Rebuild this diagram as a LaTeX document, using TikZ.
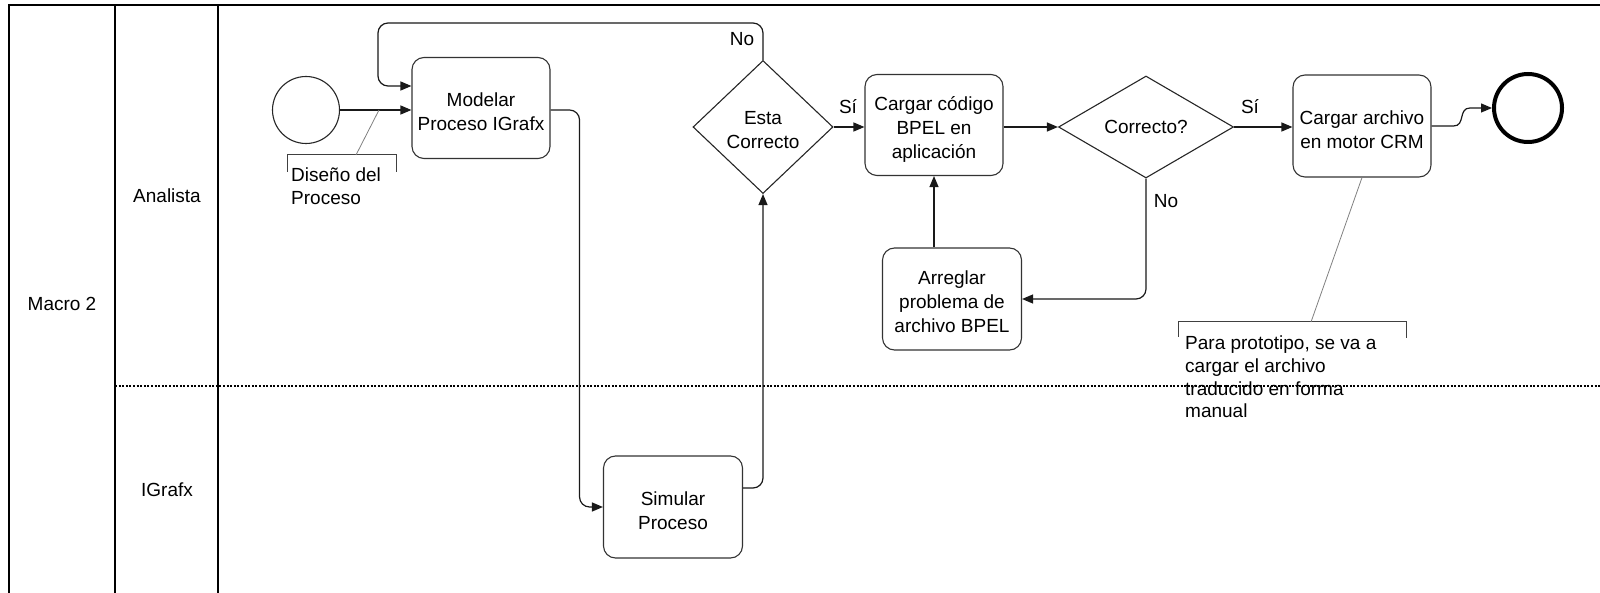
\documentclass[tikz,border=0pt]{standalone}
\usepackage{fontspec}
\setmainfont{Liberation Sans}
\usetikzlibrary{arrows.meta,shapes.geometric,calc}
% invisible strut that lowers the text block inside a box
\newcommand\toppad[1]{\rule{0pt}{#1}}
\begin{document}
\begin{tikzpicture}[x=1pt,y=-1pt,
  every node/.style={font=\fontsize{19}{24}\selectfont},
  task/.style={draw=black!80, line width=1.1pt, rounded corners=12pt, minimum width=138pt, minimum height=101pt, inner sep=0pt, align=center},
  gate/.style={draw=black!85, line width=1.1pt, diamond, inner sep=0pt, align=center},
  flow/.style={draw=black!90, line width=1.2pt, -{Triangle[length=11pt,width=9pt]}},
  lane/.style={line width=2.8pt},
  note/.style={draw=black!75, line width=1pt},
  link/.style={draw=black!50, line width=0.8pt},
  lbl/.style={inner sep=0pt}
]
\useasboundingbox (0,0) rectangle (1600,593);

% pool and lanes
\draw[lane] (9,593) -- (9,5) -- (1600,5);
\draw[lane] (115,5) -- (115,593);
\draw[lane] (218,5) -- (218,593);
\draw[line width=1.8pt, dash pattern=on 2pt off 1.6pt] (115,386) -- (1600,386);

\node (pool) at (62,304) {Macro 2};
\node (ana) at (167,196) {Analista};
\node (igr) at (167,490) {IGrafx};

% events, tasks and gateways
\node[circle, draw=black!85, line width=1.1pt, minimum size=67pt, inner sep=0pt] (start) at (306,110) {};
\node[task] (modelar) at (481,108) {\toppad{22pt}Modelar\\Proceso IGrafx};
\node[task, minimum width=139pt, minimum height=102pt] (simular) at (673,507) {\toppad{22pt}Simular\\Proceso};
\node[gate, minimum width=140pt, minimum height=133pt] (esta) at (763,127) {\toppad{20pt}Esta\\Correcto};
\node[task] (cargarc) at (934,125) {\toppad{22pt}Cargar código\\BPEL en\\aplicación};
\node[gate, shape aspect=1.7, minimum width=175pt, minimum height=102pt] (correcto) at (1146,127) {Correcto?};
\node[task, minimum height=102pt] (cargara) at (1362,126) {\toppad{22pt}Cargar archivo\\en motor CRM};
\node[circle, draw=black, line width=4pt, minimum size=68pt, inner sep=0pt] (end) at (1528,108) {};
\node[task, minimum width=139pt, minimum height=102pt] (arreglar) at (952,299) {\toppad{20pt}Arreglar\\problema de\\archivo BPEL};

% sequence flows
\draw[flow] (start.east) -- (start.east -| modelar.west);
\draw[flow, rounded corners=10pt] (esta.north) |- (378,23) |- ([yshift=22pt]modelar.west);
\draw[flow, rounded corners=10pt] ([yshift=-2pt]modelar.east) -- ++(29,0) |- (simular.west);
\draw[flow, rounded corners=10pt] ([yshift=19pt]simular.east) -| (esta.south);
\draw[flow] (esta.east) -- (esta.east -| cargarc.west);
\draw[flow] (cargarc.east |- correcto.west) -- (correcto.west);
\draw[flow] (correcto.east) -- (correcto.east -| cargara.west);
\draw[flow] (cargara.east) -- ++(22,0) .. controls +(12,0) and +(-12,0) .. ([xshift=-22pt]end.west) -- (end.west);
\draw[flow, rounded corners=10pt] (correcto.south) |- (arreglar.east);
\draw[flow] (cargarc.south |- arreglar.north) -- (cargarc.south);

% gateway labels
\node[lbl] (no1) at (742,39) {No};
\node[lbl] (si1) at (848,107) {Sí};
\node[lbl] (si2) at (1250,107) {Sí};
\node[lbl] (no2) at (1166,201) {No};

% text annotations
\draw[note] (287,172) -- (287,155) -- (396,155) -- (396,172);
\node[lbl, align=left, anchor=west, font=\fontsize{19}{23}\selectfont] (dis) at (291,186) {Diseño del\\Proceso};
\coordinate (disbr) at (356,155);
\coordinate (disarr) at (379,110);
\draw[link] (disbr) -- (disarr);

\draw[note] (1178,337) -- (1178,322) -- (1406,322) -- (1406,338);
\node[lbl, align=left, anchor=west, font=\fontsize{19}{22.7}\selectfont] (para) at (1185,377) {Para prototipo, se va a\\cargar el archivo\\traducido en forma\\manual};
\coordinate (parabr) at (1311,322);
\draw[link] (parabr) -- (cargara.south);
\end{tikzpicture}
\end{document}
